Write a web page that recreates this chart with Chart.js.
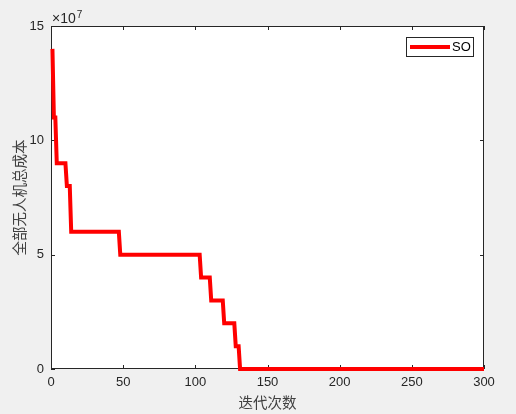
<!DOCTYPE html>
<html>
<head>
<meta charset="utf-8">
<script src="https://cdn.jsdelivr.net/npm/chart.js@4/dist/chart.umd.min.js"></script>
<style>
  html, body { margin: 0; padding: 0; background: #f0f0f0; }
  #wrap { width: 516px; height: 414px; }
</style>
</head>
<body>
<div id="wrap"><canvas id="chart" width="516" height="414"></canvas></div>
<script>
// convergence curve corners (iteration, cost)
const iters = [1, 2, 3, 4, 10, 11, 13, 14, 47, 48, 103, 104, 110, 111, 119, 120, 127, 128, 130, 131, 300];
const costs = [14e7, 11e7, 11e7, 9e7, 9e7, 8e7, 8e7, 6e7, 6e7, 5e7, 5e7, 4e7, 4e7, 3e7, 3e7, 2e7, 2e7, 1e7, 1e7, 0, 0];
const xTicks = [0, 50, 100, 150, 200, 250, 300];
const yTicks = [0, 5e7, 10e7, 15e7];
const seriesName = 'SO';

const axisColor = '#262626';
const tickFont = { family: "'Liberation Sans', Arial, sans-serif", size: 13 };
const cjkFont = { family: "'Noto Sans CJK SC', sans-serif", size: 14.5, lineHeight: 1.2 };

const points = iters.map((v, i) => ({ x: v, y: costs[i] }));

// white plot area, box and inward ticks (MATLAB style)
const axesBox = {
    id: 'axesBox',
    beforeDraw(chart) {
        const { ctx, chartArea: a } = chart;
        ctx.save();
        ctx.fillStyle = '#ffffff';
        ctx.fillRect(a.left, a.top, a.right - a.left, a.bottom - a.top);
        ctx.restore();
    },
    beforeDatasetsDraw(chart) {
        const { ctx, chartArea: a, scales } = chart;
        ctx.save();
        ctx.strokeStyle = axisColor;
        ctx.lineWidth = 1;
        ctx.strokeRect(a.left + 0.5, a.top + 0.5, a.right - a.left - 1, a.bottom - a.top - 1);
        ctx.beginPath();
        xTicks.forEach(v => {
            const px = Math.round(scales.x.getPixelForValue(v)) + 0.5;
            ctx.moveTo(px, a.bottom); ctx.lineTo(px, a.bottom - 4);
            ctx.moveTo(px, a.top); ctx.lineTo(px, a.top + 4);
        });
        yTicks.forEach(v => {
            const py = Math.round(scales.y.getPixelForValue(v)) + 0.5;
            ctx.moveTo(a.left, py); ctx.lineTo(a.left + 4, py);
            ctx.moveTo(a.right, py); ctx.lineTo(a.right - 4, py);
        });
        ctx.stroke();

        // exponent label
        ctx.fillStyle = axisColor;
        ctx.font = "14px 'Liberation Sans', Arial, sans-serif";
        ctx.textBaseline = 'alphabetic';
        ctx.textAlign = 'left';
        ctx.fillText('\u00d710', a.left + 1, a.top - 3);
        const w = ctx.measureText('\u00d710').width;
        ctx.font = "10px 'Liberation Sans', Arial, sans-serif";
        ctx.fillText('7', a.left + 2 + w, a.top - 8);
        ctx.restore();
    },
    afterDraw(chart) {
        const { ctx, chartArea: a } = chart;
        const ds = chart.data.datasets[0];
        const bw = 67, bh = 19;
        const bx = a.right - 11 - bw, by = a.top + 11;
        ctx.save();
        ctx.fillStyle = '#ffffff';
        ctx.fillRect(bx, by, bw, bh);
        ctx.strokeStyle = axisColor;
        ctx.lineWidth = 1;
        ctx.strokeRect(bx + 0.5, by + 0.5, bw, bh);
        ctx.strokeStyle = ds.borderColor;
        ctx.lineWidth = ds.borderWidth;
        ctx.beginPath();
        ctx.moveTo(bx + 4, by + bh / 2 + 0.5);
        ctx.lineTo(bx + 44, by + bh / 2 + 0.5);
        ctx.stroke();
        ctx.fillStyle = '#000000';
        ctx.font = "13px 'Liberation Sans', Arial, sans-serif";
        ctx.textBaseline = 'middle';
        ctx.fillText(ds.label, bx + 46, by + bh / 2 + 1);
        ctx.restore();
    }
};

new Chart(document.getElementById('chart'), {
    type: 'line',
    data: {
        datasets: [{
            label: seriesName,
            data: points,
            borderColor: '#ff0000',
            borderWidth: 4,
            pointRadius: 0,
            tension: 0,
            fill: false,
            clip: false
        }]
    },
    options: {
        responsive: false,
        animation: false,
        layout: { padding: { left: 0, top: 26, right: 32, bottom: 0 } },
        plugins: { legend: { display: false }, tooltip: { enabled: false } },
        scales: {
            x: {
                type: 'linear',
                min: 0, max: 300,
                afterFit(scale) { scale.height = 45; },
                afterBuildTicks(scale) { scale.ticks = xTicks.map(v => ({ value: v })); },
                grid: { display: false, drawTicks: false },
                border: { display: false },
                ticks: { color: axisColor, font: tickFont, padding: 6, maxRotation: 0 },
                title: { display: true, text: '迭代次数', color: '#404040', font: cjkFont, padding: { top: 0, bottom: 3 } }
            },
            y: {
                type: 'linear',
                min: 0, max: 15e7,
                afterFit(scale) { scale.width = 51; },
                afterBuildTicks(scale) { scale.ticks = yTicks.map(v => ({ value: v })); },
                grid: { display: false, drawTicks: false },
                border: { display: false },
                ticks: { color: axisColor, font: tickFont, padding: 7, callback: v => v / 1e7 },
                title: { display: true, text: '全部无人机总成本', color: '#404040', font: cjkFont, padding: { top: 11, bottom: 0 } }
            }
        }
    },
    plugins: [axesBox]
});
</script>
</body>
</html>
